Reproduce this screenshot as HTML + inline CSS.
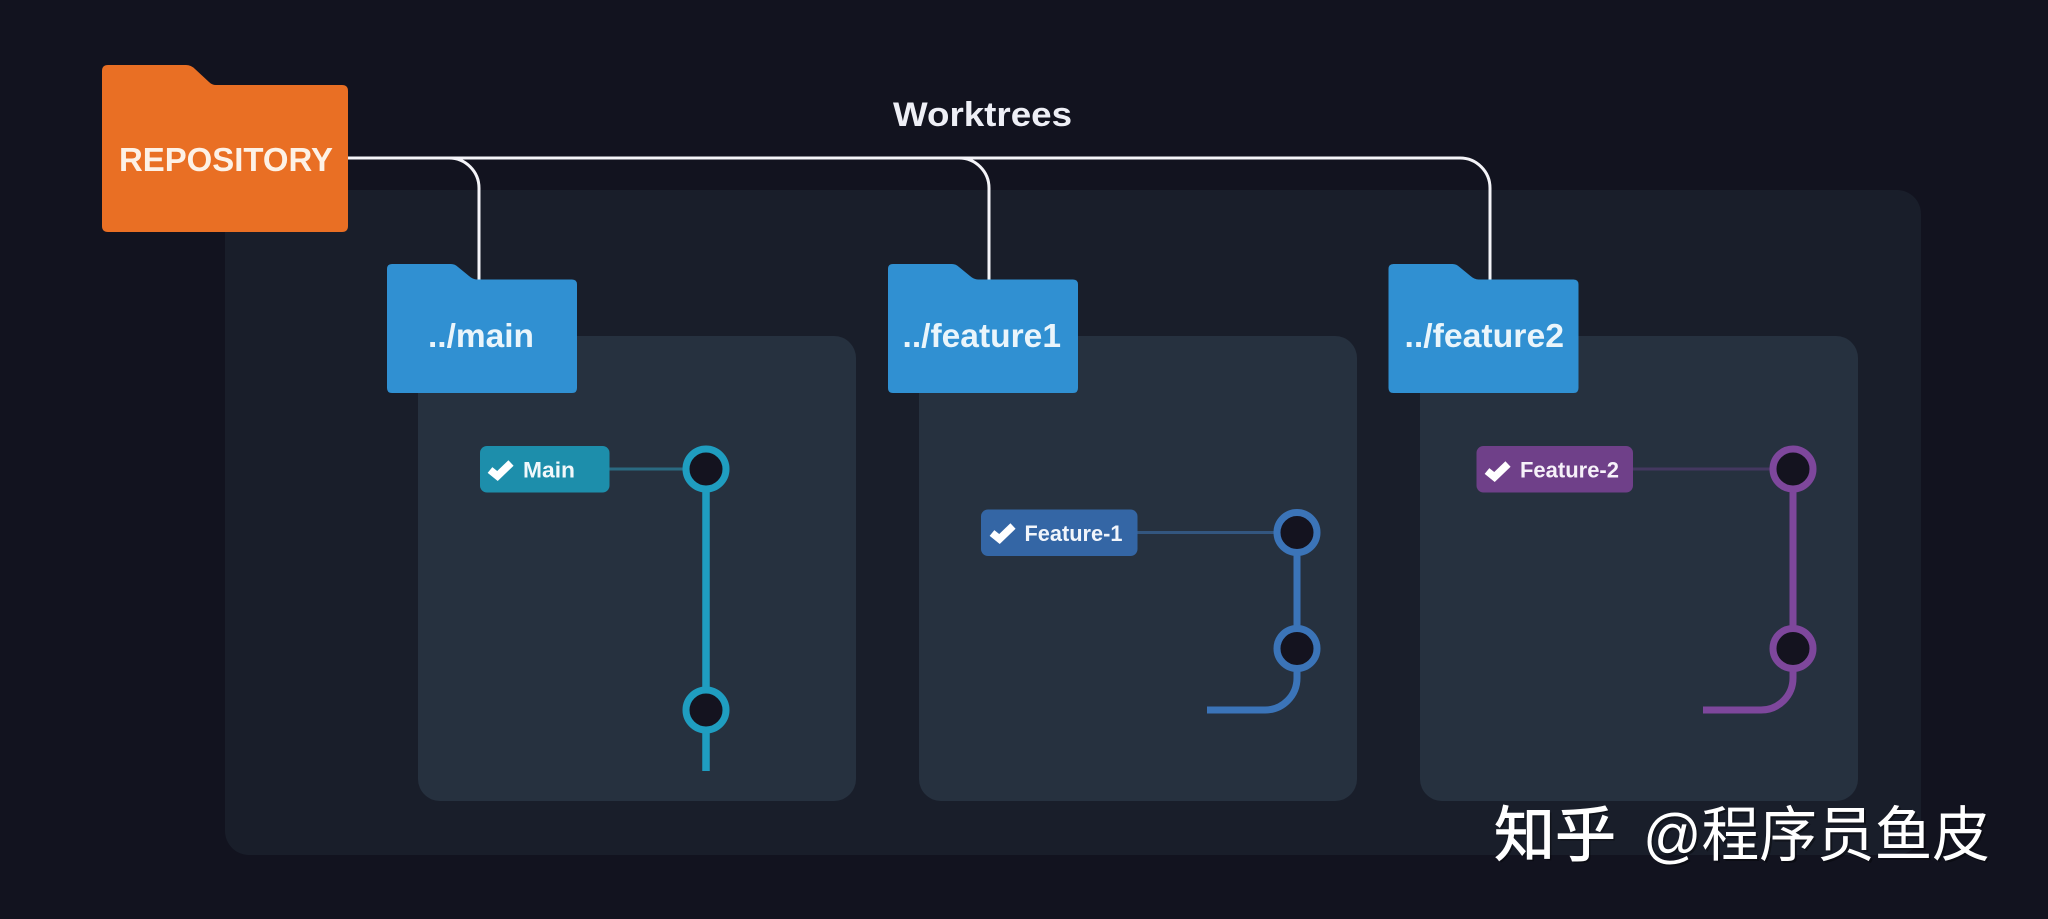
<!DOCTYPE html>
<html><head><meta charset="utf-8"><style>
html,body{margin:0;padding:0;background:#12131f;width:2048px;height:919px;overflow:hidden}
svg{display:block}
text{font-family:"Liberation Sans","Noto Sans CJK SC",sans-serif;font-weight:700}
</style></head><body>
<svg xmlns="http://www.w3.org/2000/svg" width="2048" height="919" viewBox="0 0 2048 919">
<rect width="2048" height="919" fill="#12131f"/>
<rect x="225" y="190" width="1696" height="665" rx="24" fill="#191e2a"/>
<rect x="418" y="336" width="438" height="465" rx="22" fill="#26313f"/>
<rect x="919" y="336" width="438" height="465" rx="22" fill="#26313f"/>
<rect x="1420" y="336" width="438" height="465" rx="22" fill="#26313f"/>

<g fill="none" stroke="#f4f4f8" stroke-width="3">
<path d="M348 158H449A30 30 0 0 1 479 188V281"/>
<path d="M348 158H959A30 30 0 0 1 989 188V281"/>
<path d="M348 158H1460A30 30 0 0 1 1490 188V281"/>
</g>

<path fill="#e96f24" d="M102 71Q102 65 108 65H186Q191 65 195 69L209 82Q212 85 216 85H342Q348 85 348 91V226Q348 232 342 232H108Q102 232 102 226Z"/>
<text x="119" y="171" font-size="33" fill="#fdf1e6" textLength="214" lengthAdjust="spacingAndGlyphs">REPOSITORY</text>

<text x="893" y="126" font-size="34" fill="#eeeff6" textLength="179" lengthAdjust="spacingAndGlyphs">Worktrees</text>

<path fill="#3090d2" d="M387 269Q387 264 392 264H451Q455 264 458 267L469 276Q473 279.500 477 279.500H572Q577 279.500 577 284.500V388Q577 393 572 393H392Q387 393 387 388Z"/>
<text x="428" y="347" font-size="33.500" fill="#eaf5fb" textLength="106" lengthAdjust="spacingAndGlyphs">../main</text>

<path fill="#3090d2" transform="translate(501,0)" d="M387 269Q387 264 392 264H451Q455 264 458 267L469 276Q473 279.500 477 279.500H572Q577 279.500 577 284.500V388Q577 393 572 393H392Q387 393 387 388Z"/>
<text x="902.500" y="347" font-size="33.500" fill="#eaf5fb" textLength="158.500" lengthAdjust="spacingAndGlyphs">../feature1</text>

<path fill="#3090d2" transform="translate(1001.500,0)" d="M387 269Q387 264 392 264H451Q455 264 458 267L469 276Q473 279.500 477 279.500H572Q577 279.500 577 284.500V388Q577 393 572 393H392Q387 393 387 388Z"/>
<text x="1404.500" y="347" font-size="33.500" fill="#eaf5fb" textLength="159.500" lengthAdjust="spacingAndGlyphs">../feature2</text>

<!-- main -->
<path d="M609 469H685" stroke="#2a6a82" stroke-width="3" fill="none"/>
<path d="M706 469V771" stroke="#1f9dc0" stroke-width="7.500" fill="none"/>
<circle cx="706" cy="469" r="20" fill="#14131f" stroke="#1f9dc0" stroke-width="7"/>
<circle cx="706" cy="710" r="20" fill="#14131f" stroke="#1f9dc0" stroke-width="7"/>
<rect x="480" y="446" width="129.500" height="46.500" rx="7" fill="#1d8eab"/>
<path transform="translate(487,460)" d="M3 10L10.500 16L24 3" fill="none" stroke="#fff" stroke-width="7.500"/>
<text x="523" y="477.500" font-size="22" fill="#f1f8fb" textLength="52" lengthAdjust="spacingAndGlyphs">Main</text>

<!-- feature 1 -->
<path d="M1137 532.500H1276" stroke="#33567f" stroke-width="3" fill="none"/>
<path d="M1297 532V678A32 32 0 0 1 1265 710H1207" stroke="#3b74b8" stroke-width="7" fill="none"/>
<circle cx="1297" cy="532.500" r="20" fill="#14131f" stroke="#3b74b8" stroke-width="7"/>
<circle cx="1297" cy="648.500" r="20" fill="#14131f" stroke="#3b74b8" stroke-width="7"/>
<rect x="981" y="509.500" width="156.500" height="46.500" rx="7" fill="#3466a5"/>
<path transform="translate(989,523)" d="M3 10L10.500 16L24 3" fill="none" stroke="#fff" stroke-width="7.500"/>
<text x="1024.500" y="541" font-size="22" fill="#f1f5fb" textLength="98" lengthAdjust="spacingAndGlyphs">Feature-1</text>

<!-- feature 2 -->
<path d="M1633 469H1772" stroke="#443860" stroke-width="3" fill="none"/>
<path d="M1793 469V678A32 32 0 0 1 1761 710H1703" stroke="#7e479c" stroke-width="7" fill="none"/>
<circle cx="1793" cy="469" r="20" fill="#14131f" stroke="#7e479c" stroke-width="7"/>
<circle cx="1793" cy="648.500" r="20" fill="#14131f" stroke="#7e479c" stroke-width="7"/>
<rect x="1476.500" y="446" width="156.500" height="46.500" rx="7" fill="#6f4089"/>
<path transform="translate(1484,461)" d="M3 10L10.500 16L24 3" fill="none" stroke="#fff" stroke-width="7.500"/>
<text x="1520" y="477.500" font-size="22" fill="#f6f1f9" textLength="99" lengthAdjust="spacingAndGlyphs">Feature-2</text>

<!-- watermark -->
<g font-size="60">
<text x="1496" y="858" fill="#000" fill-opacity=".35" textLength="122" lengthAdjust="spacingAndGlyphs" style="font-weight:400">知乎</text>
<text x="1645" y="858" fill="#000" fill-opacity=".35" textLength="347" lengthAdjust="spacingAndGlyphs" style="font-weight:400">@程序员鱼皮</text>
<text x="1494" y="856" fill="#fff" stroke="#fff" stroke-width="1" textLength="122" lengthAdjust="spacingAndGlyphs" style="font-weight:400">知乎</text>
<text x="1643" y="856" fill="#fff" textLength="347" lengthAdjust="spacingAndGlyphs" style="font-weight:400">@程序员鱼皮</text>
</g>
</svg>
</body></html>
